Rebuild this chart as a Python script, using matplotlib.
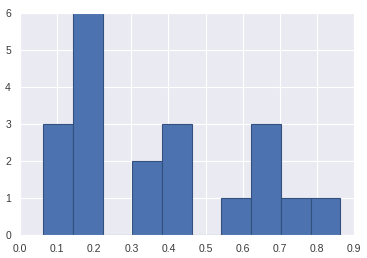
import matplotlib
matplotlib.use("Agg")
import matplotlib.pyplot as plt
import seaborn as sns

# bin edges and counts
edges = [0.063, 0.143, 0.223, 0.303, 0.383, 0.463, 0.543, 0.623, 0.703, 0.783, 0.863]
counts = [3, 6, 0, 2, 3, 0, 1, 3, 1, 1]
xticks = [0.0, 0.1, 0.2, 0.3, 0.4, 0.5, 0.6, 0.7, 0.8, 0.9]

sns.set_style("darkgrid")
plt.rcParams['font.family'] = ['Liberation Sans', 'DejaVu Sans']

fig = plt.figure(figsize=(3.67, 2.58), dpi=100)
ax = fig.add_axes([0.0545, 0.089, 0.91, 0.861])

widths = [edges[i + 1] - edges[i] for i in range(len(counts))]
ax.bar(edges[:-1], counts, width=widths, align='edge',
       color='#4C72B0', edgecolor='#34507E', linewidth=0.8)

ax.set_xlim(0, 0.9)
ax.set_ylim(0, 6)
ax.set_xticks(xticks)
ax.set_yticks(range(7))
ax.tick_params(labelsize=7.5, colors='#3a3a3a', pad=3)

fig.savefig("out.png", dpi=100)
